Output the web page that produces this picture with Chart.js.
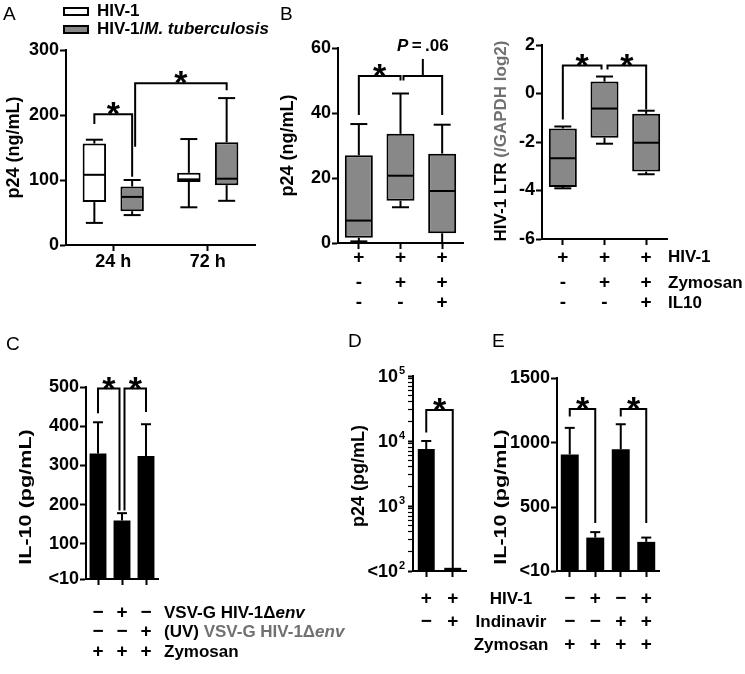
<!DOCTYPE html>
<html>
<head>
<meta charset="utf-8">
<script src="https://cdn.jsdelivr.net/npm/chart.js@4.4.0/dist/chart.umd.min.js"></script>
<style>
body { margin: 0; background: #fff; }
#wrap { position: relative; width: 745px; height: 674px; }
#wrap canvas { position: absolute; left: 0; top: 0; }
</style>
</head>
<body>
<div id="wrap">
<canvas id="cA" width="745" height="674"></canvas>
<canvas id="cB1" width="745" height="674"></canvas>
<canvas id="cB2" width="745" height="674"></canvas>
<canvas id="cC" width="745" height="674"></canvas>
<canvas id="cD" width="745" height="674"></canvas>
<canvas id="cE" width="745" height="674"></canvas>
</div>
<script>
// ---- data ----
// box stats are [min, q1, median, q3, max]
var aCats = ['24 h', '72 h'];
var aHivBox = [[34, 66, 108, 156, 162], [58, 97, 101, 111, 163]];
var aTbBox = [[46, 52, 74, 90, 100], [68, 92, 102, 158, 226]];
// significance: [[dataset,index], [dataset,index], left end, top, right end]
var aSig = [[[0, 0], [1, 0], 186, 201, 105], [[1, 0], [1, 1], 151, 249, 238]];

var bGroups = ['HIV-1', 'HIV-1 + Zymosan', 'HIV-1 + Zymosan + IL10'];
var bP24Box = [[0.5, 1.6, 6.9, 27, 36.6], [11, 13, 20.7, 33.6, 46], [0, 3, 16, 27.5, 36.4]];
var bLtrBox = [[-3.91, -3.86, -2.67, -1.44, -1.36], [-2.07, -1.82, -0.62, 0.49, 0.7], [-3.33, -3.22, -2.03, -0.84, -0.71]];
var bRowNames = ['HIV-1', 'Zymosan', 'IL10'];
var bRows = [['+', '+', '+'], ['-', '+', '+'], ['-', '-', '+']];
// [from, to, left end, top, right end]
var bP24Sig = [[0, 1, 39.4, 51.4, 50], [1, 2, 50, 51.4, 39.4]];
var bLtrSig = [[0, 1, -1.07, 1.15, 0.99], [1, 2, 0.99, 1.15, -0.66]];

var cGroups = ['Zymosan', 'VSV-G HIV-1Δenv + Zymosan', '(UV) VSV-G HIV-1Δenv + Zymosan'];
var cMean = [330, 159, 324];
var cSem = [80, 19, 81];
var cTicks = [10, 100, 200, 300, 400, 500];
var cRows = [['−', '+', '−'], ['−', '−', '+'], ['+', '+', '+']];
var cSig = [[0, 1, 433, 496, 185], [1, 2, 185, 496, 436]];

var dGroups = ['HIV-1', 'HIV-1 + Indinavir'];
var dMean = [7500, 112];
var dSem = [2500, 0];
var dMajor = [100, 1000, 10000, 100000];
var dMajorExp = ['2', '3', '4', '5'];
var dRows = [['+', '+'], ['−', '+']];
var dSig = [[0, 1, 13500, 30000, 110]];

var eGroups = ['Zymosan', 'HIV-1 + Zymosan', 'Indinavir + Zymosan', 'HIV-1 + Indinavir + Zymosan'];
var eMean = [910, 268, 949, 235];
var eSem = [205, 42, 194, 33];
var eTicks = [10, 500, 1000, 1500];
var eRowNames = ['HIV-1', 'Indinavir', 'Zymosan'];
var eRows = [['−', '+', '−', '+'], ['−', '−', '+', '+'], ['+', '+', '+', '+']];
var eSig = [[0, 1, 1203, 1260, 380], [2, 3, 1203, 1260, 380]];

// ---- styling ----
var FONT = '"Liberation Sans", Arial, Helvetica, sans-serif';
var F_B = 'bold 17px ' + FONT;
var F_BI = 'italic bold 17px ' + FONT;
var F_T = 'bold 18px ' + FONT;
var F_SIGN = 'bold 19px ' + FONT;
var F_STAR = 'bold 34px ' + FONT;
var F_LETTER = '19px ' + FONT;
var BOX_GRAY = '#888888';
var TXT_GRAY = '#707070';
var W = 745, H = 674, YW = 62, XH = 30;

function line(ctx, x1, y1, x2, y2) {
	ctx.beginPath(); ctx.moveTo(x1, y1); ctx.lineTo(x2, y2); ctx.stroke();
}

// parts: [text, font, color]
function text(ctx, parts, x, y, align) {
	var w = 0;
	parts.forEach(function (p) { ctx.font = p[1]; w += ctx.measureText(p[0]).width; });
	var cx = align == 'center' ? x - w / 2 : (align == 'right' ? x - w : x);
	ctx.textAlign = 'left';
	parts.forEach(function (p) {
		ctx.font = p[1]; ctx.fillStyle = p[2] || '#000';
		ctx.fillText(p[0], cx, y);
		cx += ctx.measureText(p[0]).width;
	});
}

function vtext(ctx, parts, x, y, stretch) {
	ctx.save();
	ctx.translate(x, y); ctx.rotate(-Math.PI / 2);
	if (stretch) ctx.scale(stretch, 1);
	ctx.textBaseline = 'middle';
	text(ctx, parts, 0, 0, 'center');
	ctx.restore();
}

function letter(ctx, t, x, y) {
	ctx.font = F_LETTER; ctx.fillStyle = '#000'; ctx.textAlign = 'left'; ctx.textBaseline = 'alphabetic';
	ctx.fillText(t, x, y);
}

function bracket(ctx, x1, x2, yl, yt, yr) {
	ctx.beginPath(); ctx.moveTo(x1, yl); ctx.lineTo(x1, yt); ctx.lineTo(x2, yt); ctx.lineTo(x2, yr); ctx.stroke();
}

function star(ctx, x, yt) {
	ctx.font = F_STAR; ctx.fillStyle = '#000'; ctx.textAlign = 'center'; ctx.textBaseline = 'alphabetic';
	ctx.fillText('*', x, yt + 11);
}

function drawBoxes(chart, series) {
	var ctx = chart.ctx, ys = chart.scales.y;
	ctx.save(); ctx.strokeStyle = '#000'; ctx.lineWidth = 2;
	series.forEach(function (stats, d) {
		chart.getDatasetMeta(d).data.forEach(function (bar, i) {
			var p = stats[i].map(function (v) { return ys.getPixelForValue(v); });
			var x = bar.x, hw = bar.width / 2 - 1, cap = 8.5;
			line(ctx, x - hw, p[2], x + hw, p[2]);
			line(ctx, x, p[3], x, p[4]); line(ctx, x - cap, p[4], x + cap, p[4]);
			line(ctx, x, p[1], x, p[0]); line(ctx, x - cap, p[0], x + cap, p[0]);
		});
	});
	ctx.restore();
}

function drawErrors(chart, mean, sem) {
	var ctx = chart.ctx, ys = chart.scales.y;
	ctx.save(); ctx.strokeStyle = '#000'; ctx.lineWidth = 2;
	chart.getDatasetMeta(0).data.forEach(function (bar, i) {
		if (!sem[i]) return;
		var y0 = ys.getPixelForValue(mean[i]), y1 = ys.getPixelForValue(mean[i] + sem[i]);
		line(ctx, bar.x, y0, bar.x, y1);
		line(ctx, bar.x - 5, y1, bar.x + 5, y1);
	});
	ctx.restore();
}

// simple brackets between categories
function drawSig(chart, sig, gap) {
	var ctx = chart.ctx, xs = chart.scales.x, ys = chart.scales.y;
	ctx.save(); ctx.strokeStyle = '#000'; ctx.lineWidth = 2;
	sig.forEach(function (s, k) {
		var x1 = xs.getPixelForValue(s[0]), x2 = xs.getPixelForValue(s[1]);
		// neighbouring brackets share a bar, nudge apart
		if (k > 0 && sig[k - 1][1] == s[0]) x1 += gap;
		if (k < sig.length - 1 && sig[k + 1][0] == s[1]) x2 -= gap;
		var yt = ys.getPixelForValue(s[3]);
		bracket(ctx, x1, x2, ys.getPixelForValue(s[2]), yt, ys.getPixelForValue(s[4]));
		star(ctx, (x1 + x2) / 2, yt);
	});
	ctx.restore();
}

function drawRows(chart, rows, rowY, font) {
	var ctx = chart.ctx, xs = chart.scales.x;
	ctx.save();
	ctx.font = font || F_SIGN; ctx.fillStyle = '#000'; ctx.textAlign = 'center'; ctx.textBaseline = 'middle';
	rows.forEach(function (r, k) {
		r.forEach(function (t, i) { ctx.fillText(t, xs.getPixelForValue(i), rowY[k]); });
	});
	ctx.restore();
}

function catAxis(show) {
	return {
		type: 'category',
		afterFit: function (s) { s.height = XH; },
		grid: { offset: false, drawOnChartArea: false, tickLength: 6, tickWidth: 2, tickColor: '#000' },
		border: { color: '#000', width: 2 },
		ticks: { display: show, color: '#000', font: { family: FONT, size: 18, weight: 'bold' }, padding: 0, maxRotation: 0, autoSkip: false }
	};
}

function valAxis(min, max, step, ticks, label) {
	var ax = {
		min: min, max: max,
		afterFit: function (s) { s.width = YW; },
		grid: { drawOnChartArea: false, tickLength: 6, tickWidth: 2, tickColor: '#000' },
		border: { color: '#000', width: 2 },
		ticks: { stepSize: step, color: '#000', font: { family: FONT, size: 18, weight: 'bold' }, padding: 1, autoSkip: false }
	};
	if (ticks) ax.afterBuildTicks = function (s) { s.ticks = ticks.map(function (v) { return { value: v }; }); };
	if (label) ax.ticks.callback = label;
	return ax;
}

// area = [left, top, right, bottom] of the plot area in page pixels
function makePanel(id, area, labels, datasets, yAxis, xAxis, draw) {
	return new Chart(document.getElementById(id), {
		type: 'bar',
		data: { labels: labels, datasets: datasets },
		options: {
			responsive: false, animation: false, devicePixelRatio: 1,
			layout: { padding: { left: area[0] - YW, top: area[1], right: W - area[2], bottom: H - area[3] - XH } },
			plugins: { legend: { display: false }, tooltip: { enabled: false } },
			scales: { x: xAxis, y: yAxis }
		},
		plugins: [{ id: 'extra', afterDraw: draw }]
	});
}

function boxSet(label, stats, fill, bp) {
	return {
		label: label,
		data: stats.map(function (s) { return [s[1], s[3]]; }),
		backgroundColor: fill, borderColor: '#000', borderWidth: 2, borderSkipped: false,
		categoryPercentage: 0.8, barPercentage: bp
	};
}

function barSet(label, values, bp, base) {
	return { label: label, data: values, backgroundColor: '#000', borderWidth: 0, categoryPercentage: 0.8, barPercentage: bp, base: base };
}

// ---- A ----
makePanel('cA', [66, 50, 255, 245], aCats,
	[boxSet('HIV-1', aHivBox, '#fff', 0.62), boxSet('HIV-1/M. tuberculosis', aTbBox, BOX_GRAY, 0.62)],
	valAxis(0, 300, 100), catAxis(true),
	function (chart) {
		var ctx = chart.ctx, ys = chart.scales.y;
		drawBoxes(chart, [aHivBox, aTbBox]);
		ctx.save(); ctx.strokeStyle = '#000'; ctx.lineWidth = 2;
		aSig.forEach(function (s, k) {
			var x1 = chart.getDatasetMeta(s[0][0]).data[s[0][1]].x;
			var x2 = chart.getDatasetMeta(s[1][0]).data[s[1][1]].x;
			if (k == 1) x1 += 3;
			var yt = ys.getPixelForValue(s[3]);
			bracket(ctx, x1, x2, ys.getPixelForValue(s[2]), yt, ys.getPixelForValue(s[4]));
			star(ctx, (x1 + x2) / 2, yt);
		});
		// legend
		ctx.lineWidth = 2;
		ctx.fillStyle = '#fff'; ctx.fillRect(64, 8, 24, 7); ctx.strokeRect(64, 8, 24, 7);
		ctx.fillStyle = BOX_GRAY; ctx.fillRect(64, 26, 24, 7); ctx.strokeRect(64, 26, 24, 7);
		ctx.textBaseline = 'middle';
		text(ctx, [['HIV-1', F_B]], 97, 11.5, 'left');
		text(ctx, [['HIV-1/', F_B], ['M. tuberculosis', F_BI]], 97, 29.5, 'left');
		vtext(ctx, [['p24 (ng/mL)', F_T]], 14, 147.5);
		letter(ctx, 'A', 3, 20);
		ctx.restore();
	});

// ---- B left ----
makePanel('cB1', [338, 48, 463, 243], bGroups,
	[boxSet('p24', bP24Box, BOX_GRAY, 0.84)],
	valAxis(0, 60, 20), catAxis(false),
	function (chart) {
		var ctx = chart.ctx, xs = chart.scales.x, ys = chart.scales.y;
		drawBoxes(chart, [bP24Box]);
		drawSig(chart, [bP24Sig[0]], 3);
		ctx.save(); ctx.strokeStyle = '#000'; ctx.lineWidth = 2;
		// second bracket carries the P value instead of a star
		var s = bP24Sig[1];
		var x1 = xs.getPixelForValue(s[0]) + 3, x2 = xs.getPixelForValue(s[1]);
		var yt = ys.getPixelForValue(s[3]);
		bracket(ctx, x1, x2, ys.getPixelForValue(s[2]), yt, ys.getPixelForValue(s[4]));
		line(ctx, (x1 + x2) / 2, yt, (x1 + x2) / 2, yt - 17);
		ctx.textBaseline = 'alphabetic';
		text(ctx, [['P', F_BI], ['\u2009=\u2009.06', F_B]], (x1 + x2) / 2, yt - 25, 'center');
		vtext(ctx, [['p24 (ng/mL)', F_T]], 288, 145.5);
		letter(ctx, 'B', 280, 20);
		ctx.restore();
		drawRows(chart, bRows, [257.5, 283, 303]);
	});

// ---- B right ----
makePanel('cB2', [542, 45, 667, 239], bGroups,
	[boxSet('HIV-1 LTR', bLtrBox, BOX_GRAY, 0.84)],
	valAxis(-6, 2, 2), catAxis(false),
	function (chart) {
		var ctx = chart.ctx;
		drawBoxes(chart, [bLtrBox]);
		drawSig(chart, bLtrSig, 3);
		drawRows(chart, bRows, [257.5, 283, 303]);
		ctx.save();
		ctx.textBaseline = 'middle';
		bRowNames.forEach(function (n, k) { text(ctx, [[n, F_B]], 668, [257.5, 283, 303][k], 'left'); });
		vtext(ctx, [['HIV-1 LTR ', F_B], ['(/GAPDH log2)', F_B, TXT_GRAY]], 501.5, 141);
		ctx.restore();
	});

// ---- C ----
makePanel('cC', [86, 387, 158, 579], cGroups,
	[barSet('IL-10', cMean, 0.88, 10)],
	valAxis(10, 500, 100, cTicks, function (v) { return v == 10 ? '<10' : v; }), catAxis(false),
	function (chart) {
		var ctx = chart.ctx;
		drawErrors(chart, cMean, cSem);
		drawSig(chart, cSig, 2.5);
		drawRows(chart, cRows, [613, 632, 652]);
		ctx.save();
		ctx.textBaseline = 'middle';
		text(ctx, [['VSV-G HIV-1Δ', F_B], ['env', F_BI]], 164, 613, 'left');
		text(ctx, [['(UV) ', F_B], ['VSV-G HIV-1Δ', F_B, TXT_GRAY], ['env', F_BI, TXT_GRAY]], 164, 632, 'left');
		text(ctx, [['Zymosan', F_B]], 164, 652, 'left');
		vtext(ctx, [['IL-10 (pg/mL)', F_B]], 26.5, 497, 1.27);
		letter(ctx, 'C', 6, 350);
		ctx.restore();
	});

// ---- D ----
var dAxis = valAxis(100, 100000, null, null, function () { return ''; });
dAxis.type = 'logarithmic';
dAxis.afterBuildTicks = function (s) {
	var t = [];
	for (var e = 2; e < 5; e++) for (var m = 1; m < 10; m++) t.push({ value: m * Math.pow(10, e) });
	t.push({ value: 100000 });
	s.ticks = t;
};
dAxis.grid.tickWidth = function (c) { return c.tick && dMajor.indexOf(c.tick.value) >= 0 ? 2 : 1.2; };
dAxis.grid.tickLength = 5;
makePanel('cD', [413, 376, 466, 571], dGroups,
	[barSet('p24', dMean, 0.8)],
	dAxis, catAxis(false),
	function (chart) {
		var ctx = chart.ctx, ys = chart.scales.y;
		drawErrors(chart, dMean, dSem);
		drawSig(chart, dSig, 0);
		drawRows(chart, dRows, [599, 622]);
		ctx.save();
		ctx.textBaseline = 'alphabetic';
		dMajor.forEach(function (v, k) {
			var y = ys.getPixelForValue(v);
			var base = (k == 0 ? '<' : '') + '10';
			text(ctx, [[base, F_T]], chart.chartArea.left - 15, y + 6, 'right');
			ctx.font = 'bold 11px ' + FONT;
			ctx.fillText(dMajorExp[k], chart.chartArea.left - 14, y - 2);
		});
		vtext(ctx, [['p24 (pg/mL)', F_T]], 359, 476);
		letter(ctx, 'D', 348, 347);
		ctx.restore();
	});

// ---- E ----
makePanel('cE', [557, 378, 659, 571], eGroups,
	[barSet('IL-10', eMean, 0.88, 10)],
	valAxis(10, 1500, 500, eTicks, function (v) { return v == 10 ? '<10' : v; }), catAxis(false),
	function (chart) {
		var ctx = chart.ctx;
		drawErrors(chart, eMean, eSem);
		drawSig(chart, eSig, 0);
		drawRows(chart, eRows, [599, 622, 645]);
		ctx.save();
		ctx.textBaseline = 'middle';
		eRowNames.forEach(function (n, k) { text(ctx, [[n, F_B]], 511, [599, 622, 645][k], 'center'); });
		vtext(ctx, [['IL-10 (pg/mL)', F_B]], 501.5, 497, 1.27);
		letter(ctx, 'E', 492, 347);
		ctx.restore();
	});
</script>
</body>
</html>
